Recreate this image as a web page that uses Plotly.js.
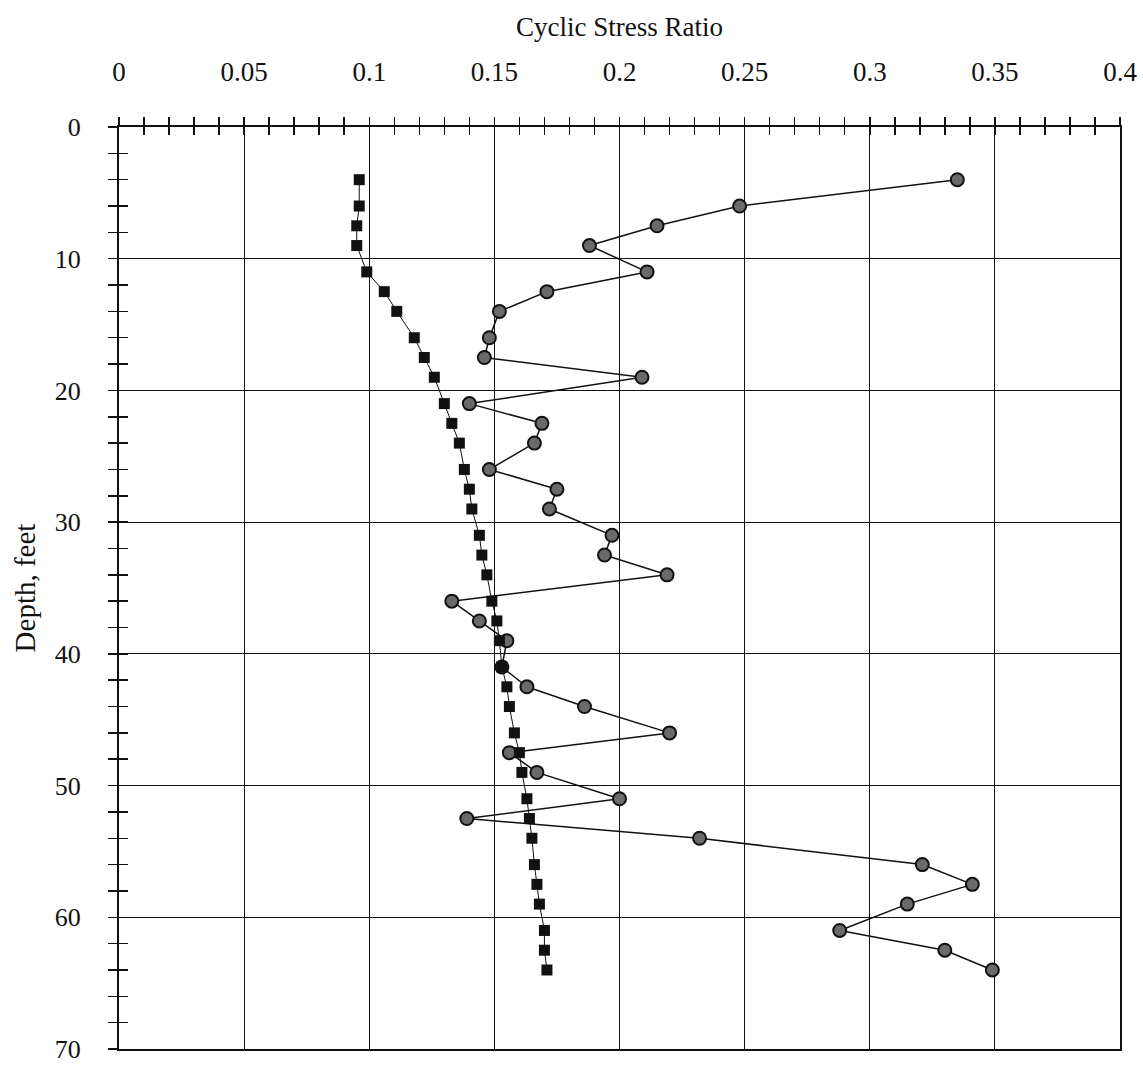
<!DOCTYPE html>
<html>
<head>
<meta charset="utf-8">
<script src="https://cdn.plot.ly/plotly-3.0.1.min.js"></script>
<style>
html,body{margin:0;padding:0;background:#fff;}
#chart{width:1143px;height:1066px;}
</style>
</head>
<body>
<div id="chart"></div>
<script>
// Depth, feet (same sampling depths for both series)
const depthFt = [4, 6, 7.5, 9, 11, 12.5, 14, 16, 17.5, 19, 21, 22.5, 24, 26, 27.5, 29, 31, 32.5, 34, 36, 37.5, 39, 41, 42.5, 44, 46, 47.5, 49, 51, 52.5, 54, 56, 57.5, 59, 61, 62.5, 64];

// Square markers (smooth profile)
const csrSquares = [0.096, 0.096, 0.095, 0.095, 0.099, 0.106, 0.111, 0.118, 0.122, 0.126, 0.130, 0.133, 0.136, 0.138, 0.140, 0.141, 0.144, 0.145, 0.147, 0.149, 0.151, 0.152, 0.153, 0.155, 0.156, 0.158, 0.160, 0.161, 0.163, 0.164, 0.165, 0.166, 0.167, 0.168, 0.170, 0.170, 0.171];

// Circle markers (variable profile)
const csrCircles = [0.335, 0.248, 0.215, 0.188, 0.211, 0.171, 0.152, 0.148, 0.146, 0.209, 0.140, 0.169, 0.166, 0.148, 0.175, 0.172, 0.197, 0.194, 0.219, 0.133, 0.144, 0.155, 0.153, 0.163, 0.186, 0.220, 0.156, 0.167, 0.200, 0.139, 0.232, 0.321, 0.341, 0.315, 0.288, 0.330, 0.349];

const xTitle = "Cyclic Stress Ratio";
const yTitle = "Depth, feet";

const FONT = "Liberation Serif, Times New Roman, serif";

const traces = [
  {
    x: csrCircles, y: depthFt, type: "scatter", mode: "lines+markers",
    line: {color: "#111", width: 1.5},
    marker: {symbol: "circle", size: 13, color: "#6a6a6a", line: {color: "#111", width: 2}},
    showlegend: false, hoverinfo: "x+y"
  },
  {
    x: csrSquares, y: depthFt, type: "scatter", mode: "lines+markers",
    line: {color: "#111", width: 1},
    marker: {symbol: "square", size: 11, color: "#111", line: {width: 0}},
    showlegend: false, hoverinfo: "x+y"
  },
  {
    x: [null], y: [null], xaxis: "x2", yaxis: "y2", type: "scatter", mode: "markers",
    showlegend: false, hoverinfo: "skip"
  }
];

const common = {
  showline: true, linecolor: "#111", zeroline: false, gridcolor: "#111", gridwidth: 1.2,
  tickcolor: "#111", tickwidth: 1.5, fixedrange: true
};

const layout = {
  width: 1143, height: 1066,
  margin: {l: 119, r: 23, t: 127, b: 17},
  paper_bgcolor: "#fff", plot_bgcolor: "#fff",
  font: {family: FONT, color: "#111", size: 26},
  showlegend: false,
  xaxis: Object.assign({}, common, {
    side: "top", range: [0, 0.4], tick0: 0, dtick: 0.05, tickformat: "~g",
    ticks: "outside", ticklen: 8, linewidth: 2, mirror: true,
    minor: {dtick: 0.01, ticks: "outside", ticklen: 8, tickcolor: "#111", tickwidth: 1.5, showgrid: false},
    showgrid: true, ticklabelstandoff: 25,
    tickfont: {family: FONT, size: 27, color: "#111"},
    title: {text: xTitle, font: {family: FONT, size: 27, color: "#111"}, standoff: 13}
  }),
  yaxis: Object.assign({}, common, {
    range: [70, 0], tick0: 0, dtick: 10,
    ticks: "outside", ticklen: 9, linewidth: 2, mirror: true,
    minor: {dtick: 2, ticks: "outside", ticklen: 9, tickcolor: "#111", tickwidth: 1.5, showgrid: false},
    showgrid: true, ticklabelstandoff: 22,
    tickfont: {family: FONT, size: 26, color: "#111"},
    title: {text: yTitle, font: {family: FONT, size: 29, color: "#111"}, standoff: 11}
  }),
  xaxis2: {
    overlaying: "x", anchor: "y2", side: "top", range: [0, 0.4], tick0: 0, dtick: 0.05,
    ticks: "inside", ticklen: 8, tickcolor: "#111", tickwidth: 1.5, showticklabels: false,
    showgrid: false, zeroline: false, showline: false, fixedrange: true,
    minor: {dtick: 0.01, ticks: "inside", ticklen: 8, tickcolor: "#111", tickwidth: 1.5, showgrid: false}
  },
  yaxis2: {
    overlaying: "y", anchor: "x2", side: "left", range: [70, 0], tick0: 0, dtick: 10,
    ticks: "inside", ticklen: 9, tickcolor: "#111", tickwidth: 1.5, showticklabels: false,
    showgrid: false, zeroline: false, showline: false, fixedrange: true,
    minor: {dtick: 2, ticks: "inside", ticklen: 9, tickcolor: "#111", tickwidth: 1.5, showgrid: false}
  }
};

Plotly.newPlot("chart", traces, layout, {staticPlot: true, displayModeBar: false});
</script>
</body>
</html>
